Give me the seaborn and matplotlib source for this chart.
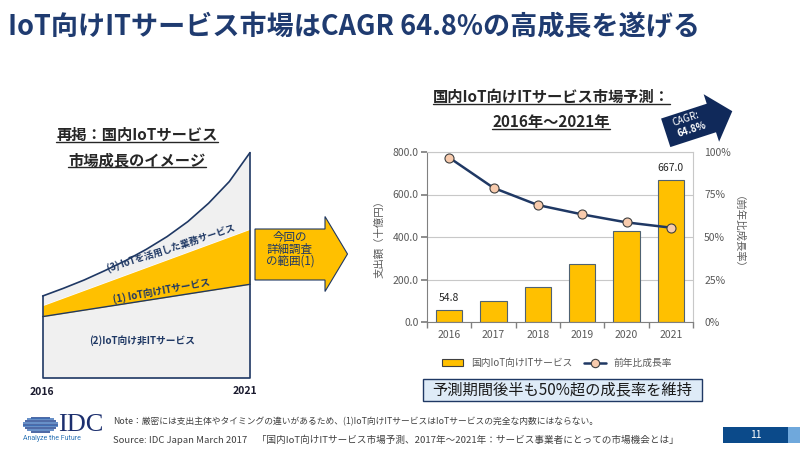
import numpy as np
import pandas as pd
import matplotlib
matplotlib.use("Agg")
import matplotlib.pyplot as plt
from matplotlib.patches import Polygon, Rectangle
from matplotlib.lines import Line2D
import seaborn as sns

sns.set_theme(style="white")
plt.rcParams['font.family'] = ['Noto Sans CJK JP', 'DejaVu Sans']

#%% data
years = ['2016', '2017', '2018', '2019', '2020', '2021']
spend = [54.8, 98.4, 167.0, 272.0, 430.0, 667.0]      # 十億円
growth = [96.7, 78.9, 68.8, 63.3, 58.6, 55.5]          # %
spend_ticks = [0, 200, 400, 600, 800]
growth_ticks = [0, 25, 50, 75, 100]
labelled = ['2016', '2021']

# concept image (arbitrary units)
concept_years = [2016, 2016.5, 2017, 2017.5, 2018, 2018.5, 2019, 2019.5, 2020, 2020.5, 2021]
concept_total = [82.3, 90, 98.3, 107.7, 117.7, 129, 141.7, 156.7, 175, 196.7, 225.7]
concept_ends = [2016, 2021]
concept_it_top = [72.7, 149]
concept_nonit_top = [61.7, 94]

navy = '#1f3864'
yellow = '#ffc000'
gray_txt = '#595959'

fig = plt.figure(figsize=(8, 4.5), dpi=100)
fig.patch.set_facecolor('white')

#%% concept illustration
axc = fig.add_axes([42.7/800, 71.7/450, 207.3/800, 226/450])
axc.set_xlim(2016, 2021)
axc.set_ylim(0, 226)
axc.axis('off')
axc.fill_between(concept_ends, 0, concept_nonit_top, color='#f0f0f0', lw=0)
axc.fill_between(concept_ends, concept_nonit_top, concept_it_top, color=yellow, lw=0)
axc.fill(np.concatenate([concept_years, concept_ends[::-1]]),
         np.concatenate([concept_total, concept_it_top[::-1]]), color='#f0f0f0', lw=0)
axc.plot(concept_years, concept_total, color=navy, lw=1.2, clip_on=False)
axc.plot(concept_ends, concept_nonit_top, color=navy, lw=1.0, clip_on=False)
axc.plot([2016, 2016, 2021, 2021], [concept_total[0], 0, 0, concept_total[-1]],
         color=navy, lw=1.2, clip_on=False)

#%% main chart
df = pd.DataFrame({'year': years, 'spend': spend, 'growth': growth})
ax = fig.add_axes([427/800, 128/450, 266/800, 170/450])
sns.barplot(data=df, x='year', y='spend', color=yellow, saturation=1, width=0.6,
            edgecolor='#4f6272', linewidth=0.8, ax=ax, zorder=2)
ax.set_xlim(-0.5, 5.5)
ax.set_ylim(0, 800)
ax.set_yticks(spend_ticks)
ax.set_yticklabels([f'{v:.1f}' for v in spend_ticks])
ax.yaxis.grid(True, color='#c8c8c8', lw=0.8)
ax.set_axisbelow(True)
ax.set_xlabel('')
ax.set_ylabel('支出額（十億円）', color=gray_txt, fontsize=7.5, labelpad=6)
ax.set_xticks(np.arange(-0.5, 6, 1), minor=True)
ax.tick_params(axis='x', which='major', length=0, labelsize=7.5, labelcolor=gray_txt, pad=6)
ax.tick_params(axis='x', which='minor', length=4, color='#808080', direction='out', bottom=True)
ax.tick_params(axis='y', length=4, color='#808080', direction='out', left=True,
               labelsize=7.5, labelcolor=gray_txt, pad=2)
for s in ['top', 'right']:
    ax.spines[s].set_color('#c8c8c8')
for s in ['left', 'bottom']:
    ax.spines[s].set_color('#808080')
for s in ax.spines.values():
    s.set_linewidth(0.8)

for i, (y, v) in enumerate(zip(years, spend)):
    if y in labelled:
        ax.annotate(f'{v:.1f}', (i, v), xytext=(0, 5), textcoords='offset points',
                    ha='center', va='bottom', fontsize=7.5, color='#262626')

ax2 = ax.twinx()
sns.lineplot(x=years, y=growth, ax=ax2, color=navy, lw=1.8, marker='o', markersize=6.5,
             markerfacecolor='#f8cbad', markeredgecolor='#404040', markeredgewidth=0.8,
             legend=False)
ax2.set_xlim(-0.5, 5.5)
ax2.set_ylim(0, 100)
ax2.set_yticks(growth_ticks)
ax2.set_yticklabels([f'{v}%' for v in growth_ticks])
ax2.tick_params(axis='y', length=0, labelsize=7.5, labelcolor=gray_txt, pad=8)
ax2.set_ylabel('（前年比成長率）', rotation=270, color=gray_txt, fontsize=7.5, labelpad=5)
for s in ax2.spines.values():
    s.set_visible(False)

handles = [Rectangle((0, 0), 1, 1, facecolor=yellow, edgecolor='#404040', lw=0.8),
           Line2D([0], [0], color=navy, lw=1.8, marker='o', markersize=6,
                  markerfacecolor='#f8cbad', markeredgecolor='#404040', markeredgewidth=0.8)]
fig.legend(handles, ['国内IoT向けITサービス', '前年比成長率'], loc='center',
           bbox_to_anchor=(557/800, 1 - 363/450), ncol=2, frameon=False,
           fontsize=7, handlelength=2.2, handleheight=0.6, columnspacing=1.2,
           labelcolor=gray_txt)

#%% decorations in pixel coords
deco = fig.add_axes([0, 0, 1, 1], zorder=10)
deco.set_xlim(0, 800)
deco.set_ylim(450, 0)
deco.axis('off')
deco.patch.set_alpha(0)

deco.text(8, 27, 'IoT向けITサービス市場はCAGR 64.8%の高成長を遂げる', fontsize=19.5,
          fontweight='bold', color='#1f3b70', ha='left', va='center')

titles = []
for (x, y, s) in [(137, 135, '再掲：国内IoTサービス'), (137, 160, '市場成長のイメージ'),
                  (551, 97, '国内IoT向けITサービス市場予測：'), (551, 122, '2016年～2021年')]:
    titles.append(deco.text(x, y, s, fontsize=11, fontweight='bold', color='#262626',
                            ha='center', va='center'))

deco.text(170.7, 248.3, '(3) IoTを活用した業務サービス', rotation=18, fontsize=6.8,
          fontweight='bold', color=navy, ha='center', va='center', rotation_mode='anchor')
deco.text(161.7, 290.7, '(1) IoT向けITサービス', rotation=10.4, fontsize=7,
          fontweight='bold', color=navy, ha='center', va='center', rotation_mode='anchor')
deco.text(142.3, 341, '(2)IoT向け非ITサービス', fontsize=7, fontweight='bold',
          color=navy, ha='center', va='center')
deco.text(30, 392, '2016', fontsize=7.5, fontweight='bold', color='#1a1a2e', ha='left', va='center')
deco.text(257, 391, '2021', fontsize=7.5, fontweight='bold', color='#1a1a2e', ha='right', va='center')

# yellow arrow
deco.add_patch(Polygon([(255, 229), (325, 229), (325, 216.5), (347.5, 254),
                        (325, 291.5), (325, 280), (255, 280)],
                       closed=True, facecolor=yellow, edgecolor=navy, lw=0.8))
for yy, s in zip([238, 249.5, 261], ['今回の', '詳細調査', 'の範囲(1)']):
    deco.text(290, yy, s, fontsize=8.3, color=navy, ha='center', va='center')

# CAGR arrow
th = np.deg2rad(18)
loc = np.array([(-35, -15), (13, -15), (13, -25), (35, 0), (13, 25), (13, 15), (-35, 15)])
rot = np.column_stack([loc[:, 0]*np.cos(th) + loc[:, 1]*np.sin(th),
                       -loc[:, 0]*np.sin(th) + loc[:, 1]*np.cos(th)])
deco.add_patch(Polygon(rot + [699, 122], closed=True, facecolor='#10295a', edgecolor='none'))
deco.text(686, 118.5, 'CAGR:', rotation=18, fontsize=7, color='white', ha='center', va='center')
deco.text(692, 130, '64.8%', rotation=18, fontsize=7, fontweight='bold', color='white',
          ha='center', va='center')

# callout
deco.add_patch(Rectangle((423, 379), 279, 21.5, facecolor='#deebf7', edgecolor=navy, lw=1.0))
deco.text(562.5, 389.7, '予測期間後半も50%超の成長率を維持', fontsize=11, color='#1a1a1a',
          ha='center', va='center')

# footer
for k, dy in enumerate(np.arange(-7, 7.1, 1.75)):
    hw = 17.5*np.sqrt(max(0, 1 - (dy/8.2)**2))
    deco.plot([40.5 - hw, 40.5 + hw], [424.5 + dy, 424.5 + dy], lw=1.1,
              color=['#1b3f8b', '#3a6fb8'][k % 2], solid_capstyle='butt')
deco.text(58, 425, 'IDC', family=['Liberation Serif', 'DejaVu Serif'], fontsize=19,
          color='#1c2f6e', ha='left', va='center')
deco.text(23, 439, 'Analyze the Future', fontsize=5, color='#2e75b6', ha='left', va='center',
          family=['Roboto', 'DejaVu Sans'])
deco.text(113, 422, 'Note：厳密には支出主体やタイミングの違いがあるため、(1)IoT向けITサービスはIoTサービスの完全な内数にはならない。',
          fontsize=6.3, color='#404040', ha='left', va='center')
deco.text(113, 439.5, 'Source: IDC Japan March 2017　「国内IoT向けITサービス市場予測、2017年～2021年：サービス事業者にとっての市場機会とは」',
          fontsize=6.9, color='#404040', ha='left', va='center')
deco.add_patch(Rectangle((723, 427), 65, 16, facecolor='#0b4a8a', edgecolor='none'))
deco.add_patch(Rectangle((788, 427), 12, 16, facecolor='#6fa8dc', edgecolor='none'))
deco.text(755.5, 435, '11', fontsize=7.5, color='white', ha='center', va='center')

# underline the section titles
fig.canvas.draw()
inv = deco.transData.inverted()
for t in titles:
    bb = t.get_window_extent()
    (x0, y0), (x1, y1) = inv.transform([[bb.x0, bb.y0], [bb.x1, bb.y1]])
    yb = max(y0, y1) - 1
    deco.plot([x0, x1], [yb, yb], color='#262626', lw=1.0)

fig.savefig('out.png', dpi=100)
